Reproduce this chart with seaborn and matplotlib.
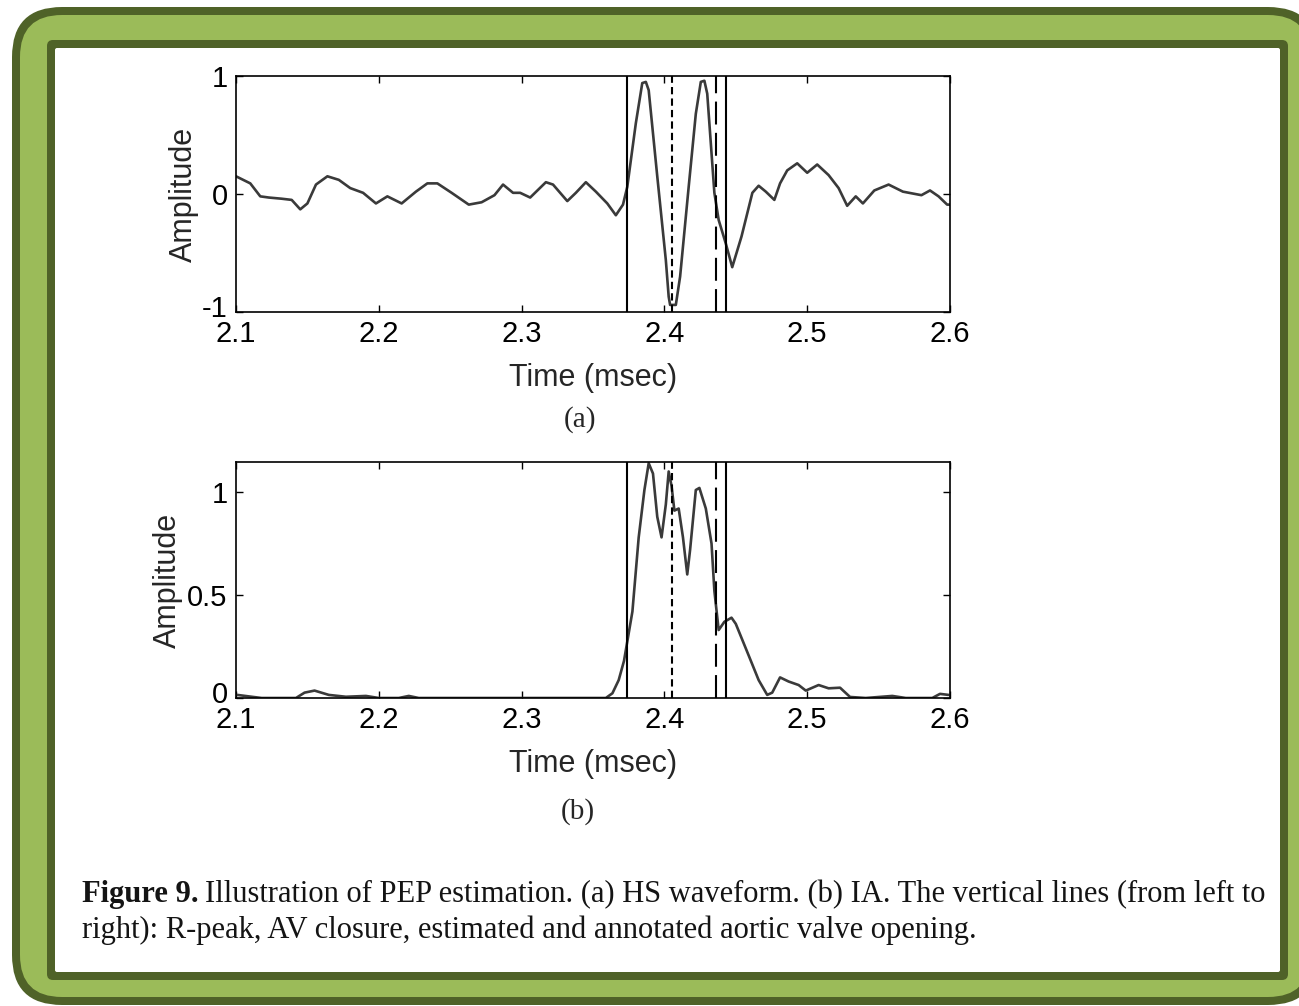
import numpy as np
import pandas as pd
import matplotlib
matplotlib.use("Agg")
import matplotlib.pyplot as plt
import matplotlib.transforms as mtransforms
import seaborn as sns
from matplotlib.patches import FancyBboxPatch

# HS waveform (panel a)
hs_time = [2.100, 2.110, 2.117, 2.123, 2.132, 2.139, 2.145, 2.150, 2.156, 2.164,
           2.172, 2.180, 2.189, 2.198, 2.206, 2.216, 2.226, 2.234, 2.241, 2.251,
           2.263, 2.272, 2.281, 2.287, 2.294, 2.299, 2.306, 2.317, 2.322, 2.332,
           2.338, 2.345, 2.352, 2.360, 2.366, 2.371, 2.374, 2.380, 2.3845, 2.387,
           2.389, 2.395, 2.401, 2.403, 2.404, 2.408, 2.411, 2.417, 2.422, 2.4255,
           2.428, 2.430, 2.435, 2.438, 2.443, 2.4475, 2.454, 2.4616, 2.466, 2.471,
           2.477, 2.481, 2.486, 2.493, 2.500, 2.507, 2.515, 2.522, 2.528, 2.534,
           2.539, 2.547, 2.557, 2.567, 2.580, 2.586, 2.592, 2.598, 2.600]
hs_amp = [0.15, 0.09, -0.02, -0.03, -0.04, -0.05, -0.13, -0.08, 0.08, 0.15,
          0.12, 0.05, 0.01, -0.08, -0.02, -0.08, 0.02, 0.09, 0.09, 0.01,
          -0.09, -0.07, -0.01, 0.08, 0.01, 0.01, -0.03, 0.10, 0.08, -0.06,
          0.01, 0.10, 0.02, -0.08, -0.18, -0.09, 0.06, 0.60, 0.94, 0.95,
          0.88, 0.15, -0.56, -0.87, -0.94, -0.94, -0.70, 0.06, 0.68, 0.95,
          0.96, 0.85, 0.01, -0.22, -0.42, -0.62, -0.36, 0.01, 0.07, 0.02,
          -0.05, 0.09, 0.20, 0.26, 0.18, 0.25, 0.16, 0.05, -0.10, -0.02,
          -0.08, 0.03, 0.08, 0.02, -0.01, 0.03, -0.02, -0.09, -0.09]

# IA envelope (panel b)
ia_time = [2.1009, 2.111, 2.118, 2.142, 2.148, 2.155, 2.165, 2.177, 2.191, 2.200,
           2.214, 2.221, 2.228, 2.359, 2.3636, 2.368, 2.3717, 2.3776, 2.382, 2.386,
           2.389, 2.392, 2.395, 2.398, 2.401, 2.403, 2.405, 2.407, 2.410, 2.413,
           2.416, 2.418, 2.422, 2.4245, 2.429, 2.433, 2.435, 2.438, 2.442, 2.447,
           2.450, 2.4594, 2.466, 2.472, 2.4755, 2.481, 2.487, 2.494, 2.499, 2.508,
           2.515, 2.523, 2.530, 2.541, 2.5596, 2.569, 2.5876, 2.593, 2.599]
ia_amp = [0.015, 0.006, 0.0, 0.0, 0.026, 0.036, 0.015, 0.006, 0.01, 0.0,
          0.0, 0.01, 0.0, 0.0, 0.023, 0.087, 0.18, 0.42, 0.78, 1.01,
          1.14, 1.09, 0.88, 0.78, 0.94, 1.10, 1.03, 0.91, 0.92, 0.78,
          0.60, 0.72, 1.01, 1.02, 0.92, 0.75, 0.52, 0.33, 0.37, 0.39,
          0.36, 0.20, 0.087, 0.015, 0.026, 0.10, 0.08, 0.063, 0.036, 0.063,
          0.047, 0.05, 0.005, 0.0, 0.01, 0.0, 0.0, 0.02, 0.015]

# vertical markers: R-peak, AV closure, estimated AO, annotated AO
r_peak = 2.3738
av_closure = 2.4053
ao_est = 2.4361
ao_ann = 2.4431

x_ticks = [2.1, 2.2, 2.3, 2.4, 2.5, 2.6]
x_ticklabels = ["2.1", "2.2", "2.3", "2.4", "2.5", "2.6"]

sns.set_style("ticks", {"xtick.direction": "in", "ytick.direction": "in"})
plt.rcParams["font.family"] = ["Liberation Sans", "DejaVu Sans"]

W, H = 1299, 1006
fig = plt.figure(figsize=(W / 100, H / 100), dpi=100)

# green rounded frame
bg = fig.add_axes([0, 0, 1, 1], zorder=0)
bg.set_xlim(0, W)
bg.set_ylim(H, 0)
bg.axis("off")
dark_green = "#4F6228"
light_green = "#9BBB59"
for (x0, y0, x1, y1, r, c) in [(12, 7, 1318, 1005, 50, dark_green),
                               (20, 15, 1310, 997, 42, light_green),
                               (47, 40, 1288, 980, 6, dark_green),
                               (55, 48, 1280, 972, 2, "white")]:
    bg.add_patch(FancyBboxPatch((x0, y0), x1 - x0, y1 - y0,
                                boxstyle=f"round,pad=0,rounding_size={r}",
                                fc=c, ec="none", clip_on=False))

left = 236 / W
width = (950 - 236) / W
ax_h = 236 / H
ax_a = fig.add_axes([left, 1 - 312 / H, width, ax_h], zorder=1)
ax_b = fig.add_axes([left, 1 - 698 / H, width, ax_h], zorder=1)

curve_color = "#3a3a3a"
sns.lineplot(x=hs_time, y=hs_amp, ax=ax_a, color=curve_color, lw=1.9)
sns.lineplot(x=ia_time, y=ia_amp, ax=ax_b, color=curve_color, lw=1.9)

for ax in (ax_a, ax_b):
    ax.set_facecolor("none")
    ax.axvline(r_peak, color="black", lw=1.5)
    ax.axvline(av_closure, color="black", lw=1.5, dashes=(3.5, 2))
    ax.axvline(ao_est, color="black", lw=1.5, dashes=(11, 4))
    ax.axvline(ao_ann, color="black", lw=1.5)
    ax.set_xlim(2.1, 2.6)
    ax.set_xticks(x_ticks)
    ax.set_xticklabels(x_ticklabels)
    ax.tick_params(axis="both", which="both", direction="in", length=5, width=1,
                   top=True, right=True, labelsize=21, colors="black")
    ax.tick_params(axis="x", pad=6)
    ax.tick_params(axis="y", pad=6)
    for s in ax.spines.values():
        s.set_visible(True)
        s.set_linewidth(1.2)
        s.set_color("black")
    ax.set_xlabel("Time (msec)", fontsize=22)
    ax.set_ylabel("Amplitude", fontsize=22)
    ax.xaxis.set_label_coords(0.5, -0.215)

ax_a.set_ylim(-1, 1)
ax_a.set_yticks([-1, 0, 1])
ax_a.set_yticklabels(["-1", "0", "1"])
ax_a.yaxis.set_label_coords(-0.052, 0.5)

ax_b.set_ylim(0, 1.146)
ax_b.set_yticks([0, 0.5, 1])
ax_b.set_yticklabels(["0", "0.5", "1"])
ax_b.yaxis.set_label_coords(-0.074, 0.5)

# lift the lowest y tick label a little, as in the original figure
for ax in (ax_a, ax_b):
    lbl = ax.get_yticklabels()[0]
    lbl.set_transform(lbl.get_transform() +
                      mtransforms.ScaledTranslation(0, 6 / 100, fig.dpi_scale_trans))

serif = ["Liberation Serif", "DejaVu Serif"]
fig.text(580 / W, 1 - 420 / H, "(a)", family=serif, fontsize=21, ha="center", va="center")
fig.text(578 / W, 1 - 812 / H, "(b)", family=serif, fontsize=21, ha="center", va="center")

# caption, bold lead-in followed by normal text
cap_size = 22
cap_color = "#141414"
t_bold = fig.text(82 / W, 1 - 902 / H, "Figure 9.", family=serif, fontsize=cap_size,
                  fontweight="bold", va="baseline", color=cap_color)
renderer = fig.canvas.get_renderer()
bb = t_bold.get_window_extent(renderer=renderer)
fig.text(bb.x1 / W + 6 / W, 1 - 902 / H,
         "Illustration of PEP estimation. (a) HS waveform. (b) IA. The vertical lines (from left to",
         family=serif, fontsize=cap_size, va="baseline", color=cap_color)
fig.text(82 / W, 1 - 938 / H,
         "right): R-peak, AV closure, estimated and annotated aortic valve opening.",
         family=serif, fontsize=cap_size, va="baseline", color=cap_color)

fig.savefig("out.png", dpi=100)
